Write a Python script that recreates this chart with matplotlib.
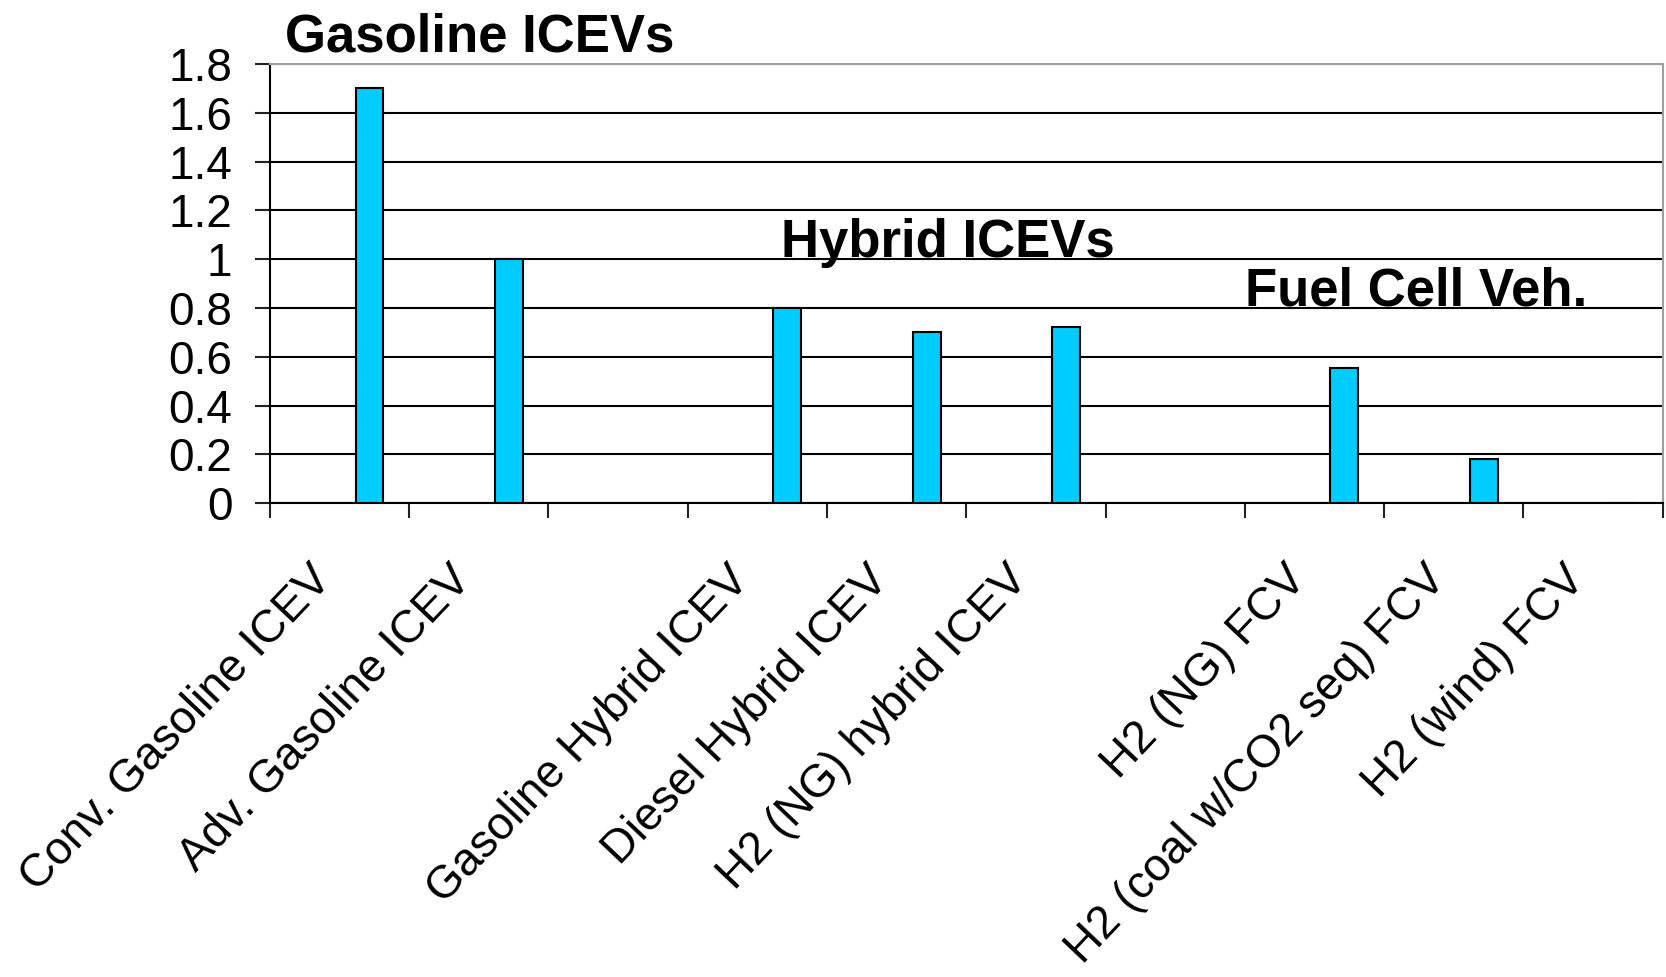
import matplotlib
matplotlib.use("Agg")
import matplotlib.pyplot as plt
import matplotlib.transforms as mtransforms
import numpy as np

plt.rcParams['font.family'] = ['Liberation Sans', 'DejaVu Sans']

# categories (empty strings are blank slots on the axis)
categories = ["Conv. Gasoline ICEV", "Adv. Gasoline ICEV", "",
              "Gasoline Hybrid ICEV", "Diesel Hybrid ICEV", "H2 (NG) hybrid ICEV", "",
              "H2 (NG) FCV", "H2 (coal w/CO2 seq) FCV", "H2 (wind) FCV"]
values = [1.7, 1.0, np.nan, 0.8, 0.7, 0.72, np.nan, 0.555, 0.18, 0.0]
yticks = [0, 0.2, 0.4, 0.6, 0.8, 1.0, 1.2, 1.4, 1.6, 1.8]
ytick_labels = ["0", "0.2", "0.4", "0.6", "0.8", "1", "1.2", "1.4", "1.6", "1.8"]
group_labels = ["Gasoline ICEVs", "Hybrid ICEVs", "Fuel Cell Veh."]
group_pos = [(-0.39, 1.85), (3.17, 1.01), (6.5, 0.81)]

fig = plt.figure(figsize=(16.66, 9.77), dpi=100)
ax = fig.add_axes([0.162, 0.485, 0.836, 0.4495])

x = np.arange(len(categories))
ax.bar(x + 0.215, values, width=0.2, color="#00CCFF", edgecolor="black", linewidth=1.5, zorder=3)

ax.set_xlim(-0.5, len(categories) - 0.5)
ax.set_ylim(0, 1.8)
ax.set_yticks(yticks)
ax.set_yticklabels(ytick_labels, fontsize=33)
ax.yaxis.grid(True, color="black", linewidth=1.5, zorder=0)

# tick marks at slot boundaries, labels at slot centres
ax.set_xticks(np.arange(len(categories) + 1) - 0.5)
ax.set_xticklabels([])
ax.set_xticks(x, minor=True)
ax.set_xticklabels(categories, minor=True, rotation=46.5, ha="right", va="center",
                   rotation_mode="anchor", fontsize=33)
ax.tick_params(axis="x", which="major", length=11, width=1.5, color="#222222")
ax.tick_params(axis="x", which="minor", length=0, pad=50)
ax.tick_params(axis="y", length=11, width=1.5, color="#222222", pad=16)

shift = mtransforms.ScaledTranslation(-0.15, 0, fig.dpi_scale_trans)
for lab in ax.get_xticklabels(minor=True):
    lab.set_transform(lab.get_transform() + shift)

for s in ["left", "bottom"]:
    ax.spines[s].set_color("black")
    ax.spines[s].set_linewidth(1.5)
for s in ["top", "right"]:
    ax.spines[s].set_color("#a0a0a0")
    ax.spines[s].set_linewidth(1.5)

for lab, (gx, gy) in zip(group_labels, group_pos):
    ax.text(gx, gy, lab, fontsize=38, fontweight="bold", ha="left", va="baseline",
            clip_on=False)

fig.savefig("out.png", dpi=100)
